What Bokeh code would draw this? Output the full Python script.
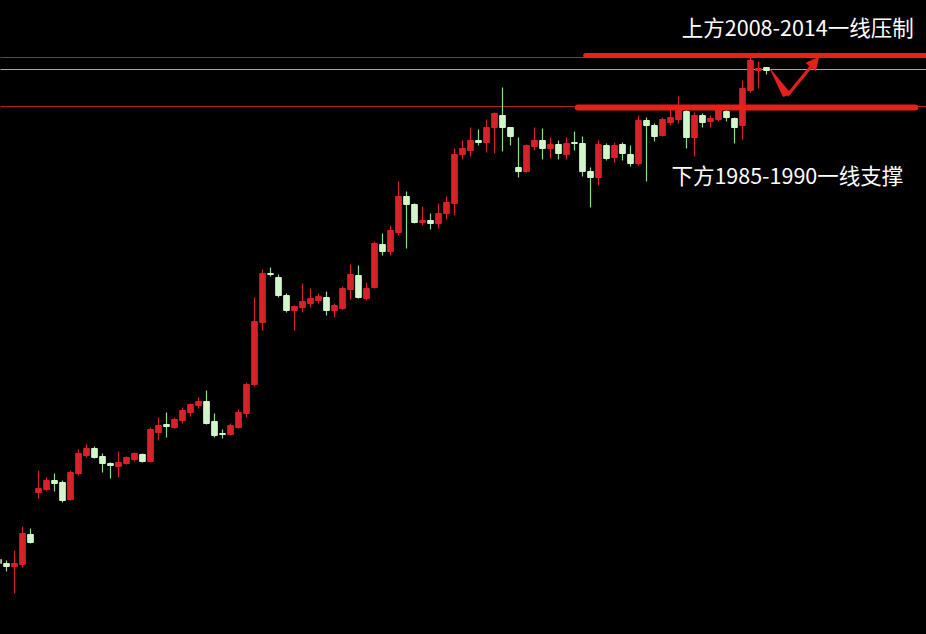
from bokeh.plotting import figure
from bokeh.models import Range1d, ColumnDataSource, Label, Arrow, NormalHead
from bokeh.embed import file_html
from bokeh.resources import INLINE

# ---- data (price units, arbitrary) ----
opens  = [81,77,74,76,106,148,151,160,158,141,167,185,192,184,177,174,177,181,186,179,
          208,216,213,220,228,235,239,219,207,206,213,227,256,318,367,363,345,330,333,337,
          340,343,330,332,351,365,342,353,396,389,408,444,436,418,420,417,427,437,486,490,
          500,498,513,525,513,473,469,494,500,492,496,486,498,497,469,463,495,483,496,486,
          477,520,515,505,518,521,529,503,525,519,521,529,522,515,550,570,573]
closes = [77,74,77,107,98,152,160,157,140,168,187,192,183,177,175,178,183,187,179,211,
          215,214,221,230,236,239,217,205,206,215,228,256,319,367,366,345,330,334,339,342,
          344,330,335,352,366,343,352,397,389,410,444,436,418,420,417,427,438,486,492,500,
          498,513,527,513,504,469,495,500,492,496,487,497,497,469,463,496,482,495,487,477,
          520,515,504,521,523,533,503,525,518,522,531,523,513,552,580,572,570]
highs  = [83,80,90,114,112,170,163,167,160,170,191,196,194,187,178,189,184,188,187,213,
          223,228,223,233,237,243,250,227,211,217,231,258,343,371,373,366,347,335,357,352,
          347,349,337,354,376,375,358,399,407,415,459,449,437,434,427,437,444,492,500,513,
          511,521,528,553,513,503,496,513,512,503,500,503,509,504,473,500,497,498,498,495,
          525,523,517,523,531,544,533,528,527,525,536,531,523,560,583,579,573]
lows   = [74,69,47,73,97,142,149,149,138,140,165,183,182,168,162,163,176,179,178,178,
          200,203,212,217,224,232,216,203,202,205,212,223,254,310,364,343,328,310,328,333,
          337,325,323,331,341,342,340,352,385,385,405,392,417,415,411,412,421,425,481,484,
          495,488,487,489,495,463,468,490,481,482,481,481,490,464,433,455,480,478,480,474,
          475,459,499,504,515,517,492,484,513,513,519,519,497,501,548,552,566]
idx = list(range(len(opens)))

# reference levels
upper_level = 584
mid_level = 571
lower_level = 534
upper_band = [73.4, 116.0]
lower_band = [72.4, 114.6]

# V-arrow annotation points (index, price)
arrow_x = [96.5, 98.6, 102.5]
arrow_y = [571, 545, 583]

label_top = "上方2008-2014一线压制"
label_bottom = "下方1985-1990一线支撑"

RED = "#d8222a"
GREEN_BODY = "#d2f5cc"
GREEN_WICK = "#8fdc8f"

up = [c >= o for o, c in zip(opens, closes)]
src_up = ColumnDataSource(dict(
    x=[i for i, u in zip(idx, up) if u],
    top=[c for c, u in zip(closes, up) if u],
    bottom=[o for o, u in zip(opens, up) if u],
    hi=[h for h, u in zip(highs, up) if u],
    lo=[l for l, u in zip(lows, up) if u]))
src_dn = ColumnDataSource(dict(
    x=[i for i, u in zip(idx, up) if not u],
    top=[o for o, u in zip(opens, up) if not u],
    bottom=[c for c, u in zip(closes, up) if not u],
    hi=[h for h, u in zip(highs, up) if not u],
    lo=[l for l, u in zip(lows, up) if not u]))

p = figure(width=926, height=634, output_backend="svg", toolbar_location=None,
           x_range=Range1d(0.25, 116.0), y_range=Range1d(6, 640),
           background_fill_color="black", border_fill_color="black",
           min_border=0, outline_line_color=None)
p.axis.visible = False
p.grid.visible = False

# thin full-width levels
p.line([-5, 130], [upper_level - 1, upper_level - 1], line_color="#b02424", line_width=1)
p.line([-5, 130], [mid_level, mid_level], line_color="#a8a8a8", line_width=1)
p.line([-5, 130], [lower_level, lower_level], line_color="#b02424", line_width=1)

# candles
p.segment(x0="x", y0="lo", x1="x", y1="hi", source=src_up, line_color=RED, line_width=1.2)
p.vbar(x="x", top="top", bottom="bottom", width=0.7, source=src_up,
       fill_color=RED, line_color=RED)
p.segment(x0="x", y0="lo", x1="x", y1="hi", source=src_dn, line_color=GREEN_WICK, line_width=1.2)
p.vbar(x="x", top="top", bottom="bottom", width=0.7, source=src_dn,
       fill_color=GREEN_BODY, line_color=GREEN_BODY)

# thick highlighted bands
p.line(upper_band, [upper_level + 1, upper_level + 1], line_color="#e8201c",
       line_width=5, line_cap="round")
p.line(lower_band, [lower_level - 1, lower_level - 1], line_color="#e8201c",
       line_width=6, line_cap="round")

# V arrow
p.patch([arrow_x[0], arrow_x[1] - 0.5, arrow_x[1] + 0.4],
        [arrow_y[0], arrow_y[1] - 1, arrow_y[1] + 2], fill_color="#e8201c", line_color="#e8201c")
p.add_layout(Arrow(end=NormalHead(size=12, fill_color="#e8201c", line_color="#e8201c"),
                   x_start=arrow_x[1], y_start=arrow_y[1], x_end=arrow_x[2], y_end=arrow_y[2],
                   line_color="#e8201c", line_width=3))

p.add_layout(Label(x=114.4, y=614, text=label_top, text_align="right", text_baseline="middle",
                   text_color="white", text_font="Noto Sans CJK SC", text_font_size="21.5px"))
p.add_layout(Label(x=113.1, y=466, text=label_bottom, text_align="right", text_baseline="middle",
                   text_color="white", text_font="Noto Sans CJK SC", text_font_size="21.5px"))

html = file_html(p, INLINE)
html = html.replace("<head>", "<head><style>html,body{background:#000;}</style>", 1)
open("out.html", "w").write(html)
